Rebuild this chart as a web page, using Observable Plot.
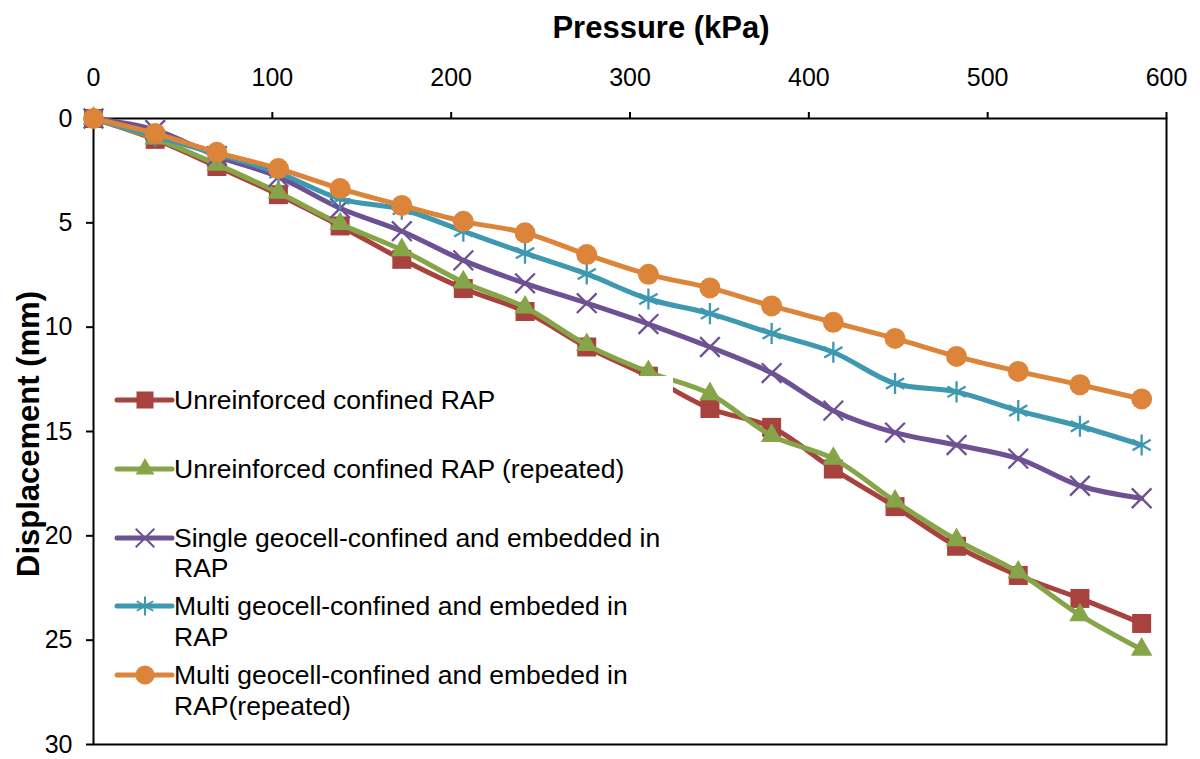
<!DOCTYPE html>
<html>
<head>
<meta charset="utf-8">
<script src="https://cdn.jsdelivr.net/npm/d3@7"></script>
<script src="https://cdn.jsdelivr.net/npm/@observablehq/plot@0.6"></script>
<style>
  body { margin: 0; background: #fff; font-family: "Liberation Sans", Arial, sans-serif; }
  #wrap { position: relative; width: 1200px; height: 759px; overflow: hidden; }
  #legend { position: absolute; left: 108px; top: 376px; width: 565px; height: 346px; background: #fff; }
  .entry { position: absolute; left: 0; display: flex; align-items: flex-start; }
  .entry svg { flex: none; }
  .entry .lbl { font-size: 26.5px; line-height: 30.5px; color: #000; white-space: nowrap; margin-left: -2px; }
</style>
</head>
<body>
<div id="wrap"></div>
<script>
// Applied pressure steps (kPa)
const pressure = [0, 34.5, 69, 103.4, 137.9, 172.4, 206.8, 241.3, 275.8, 310.3, 344.7, 379.2, 413.7, 448.2, 482.6, 517.1, 551.6, 586.1];

// Displacement (mm) for each test
const unreinforced       = [0, 1.0, 2.3, 3.65, 5.15, 6.75, 8.15, 9.25, 10.95, 12.35, 13.9, 14.8, 16.8, 18.6, 20.5, 21.9, 23.0, 24.2];
const unreinforcedRepeat = [0, 0.95, 2.2, 3.55, 5.05, 6.3, 7.85, 9.05, 10.85, 12.15, 13.2, 15.2, 16.3, 18.35, 20.2, 21.75, 23.8, 25.45];
const singleGeocell      = [0, 0.55, 1.8, 2.8, 4.3, 5.4, 6.8, 7.9, 8.85, 9.85, 10.95, 12.2, 14.0, 15.05, 15.65, 16.3, 17.6, 18.2];
const multiGeocell       = [0, 0.85, 1.7, 2.6, 3.85, 4.35, 5.4, 6.45, 7.45, 8.65, 9.35, 10.3, 11.2, 12.7, 13.1, 14.0, 14.75, 15.65];
const multiGeocellRepeat = [0, 0.72, 1.62, 2.4, 3.36, 4.17, 4.93, 5.48, 6.52, 7.47, 8.12, 8.98, 9.77, 10.54, 11.4, 12.12, 12.76, 13.44];

const seriesNames = [
  "Unreinforced confined RAP",
  "Unreinforced confined RAP (repeated)",
  "Single geocell-confined and embedded in RAP",
  "Multi geocell-confined and embeded in RAP",
  "Multi geocell-confined and embeded in RAP(repeated)"
];
const legendLines = [
  ["Unreinforced confined RAP"],
  ["Unreinforced confined RAP (repeated)"],
  ["Single geocell-confined and embedded in", "RAP"],
  ["Multi geocell-confined and embeded in", "RAP"],
  ["Multi geocell-confined and embeded in", "RAP(repeated)"]
];
const seriesValues = [unreinforced, unreinforcedRepeat, singleGeocell, multiGeocell, multiGeocellRepeat];
const seriesColors = ["#A7423F", "#86A548", "#6E5193", "#3D98B0", "#DD843B"];
const seriesSymbols = ["square", "triangle", "times", "asterisk", "circle"];
const seriesR = [10.7, 8.0, 9.0, 10.0, 10.5];

const xTicks = [0, 100, 200, 300, 400, 500, 600];
const yTicks = [0, 5, 10, 15, 20, 25, 30];

const xTitle = "Pressure (kPa)";
const yTitle = "Displacement (mm)";

// Long-format rows per series
const seriesRows = seriesNames.map((name, i) =>
  pressure.map((p, j) => ({series: name, pressure: p, displacement: seriesValues[i][j]}))
);

const strokeOnly = s => s === "times" || s === "asterisk";

const seriesMarks = seriesRows.flatMap((rows, i) => [
  Plot.line(rows, {
    x: "pressure", y: "displacement",
    stroke: seriesColors[i], strokeWidth: 5, curve: "catmull-rom",
    strokeLinejoin: "round", strokeLinecap: "round"
  }),
  Plot.dot(rows, {
    x: "pressure", y: "displacement",
    symbol: () => seriesSymbols[i], r: seriesR[i],
    fill: strokeOnly(seriesSymbols[i]) ? "none" : seriesColors[i],
    stroke: strokeOnly(seriesSymbols[i]) ? seriesColors[i] : "none",
    strokeWidth: strokeOnly(seriesSymbols[i]) ? 2.3 : 0
  })
]);

const chart = Plot.plot({
  width: 1200,
  height: 759,
  marginLeft: 93,
  marginRight: 34,
  marginTop: 118,
  marginBottom: 15,
  style: {fontFamily: "'Liberation Sans', Arial, sans-serif", fontSize: "25px", color: "#000", background: "#fff"},
  x: {domain: [0, 600]},
  y: {domain: [0, 30], reverse: true},
  marks: [
    Plot.axisX({anchor: "top", ticks: xTicks, tickSize: 7, tickPadding: 26, strokeWidth: 2, label: null, fontSize: 25}),
    Plot.axisY({anchor: "left", ticks: yTicks, tickSize: 7, tickPadding: 14, strokeWidth: 2, label: null, fontSize: 25}),
    Plot.frame({stroke: "#000", strokeWidth: 2}),
    ...seriesMarks
  ]
});

const svg = d3.select(chart);
svg.append("text")
  .attr("x", 661).attr("y", 27)
  .attr("text-anchor", "middle").attr("dominant-baseline", "central")
  .attr("font-weight", "bold").attr("font-size", 31)
  .attr("fill", "#000")
  .text(xTitle);
svg.append("text")
  .attr("transform", "translate(28,434) rotate(-90)")
  .attr("text-anchor", "middle").attr("dominant-baseline", "central")
  .attr("font-weight", "bold").attr("font-size", 31)
  .attr("fill", "#000")
  .text(yTitle);

const wrap = document.getElementById("wrap");
wrap.appendChild(chart);

// Legend box overlaid on the plot area
const legend = d3.select(wrap).append("div").attr("id", "legend");
const symbolTypes = {square: d3.symbolSquare, triangle: d3.symbolTriangle, times: d3.symbolTimes, asterisk: d3.symbolAsterisk, circle: d3.symbolCircle};
const legendR = [9.6, 7.0, 8.5, 9.0, 9.6];
legendLines.forEach((lines, i) => {
  const entry = legend.append("div").attr("class", "entry").style("top", (i * 68.8 + 9) + "px");
  const sw = entry.append("svg").attr("width", 68).attr("height", 30);
  sw.append("line")
    .attr("x1", 9).attr("x2", 64).attr("y1", 15).attr("y2", 15)
    .attr("stroke", seriesColors[i]).attr("stroke-width", 5).attr("stroke-linecap", "round");
  const st = seriesSymbols[i];
  sw.append("path")
    .attr("transform", "translate(37,15)")
    .attr("d", d3.symbol(symbolTypes[st], Math.PI * legendR[i] * legendR[i])())
    .attr("fill", strokeOnly(st) ? "none" : seriesColors[i])
    .attr("stroke", strokeOnly(st) ? seriesColors[i] : "none")
    .attr("stroke-width", 2);
  const lbl = entry.append("div").attr("class", "lbl");
  lines.forEach(t => lbl.append("div").text(t));
});
</script>
</body>
</html>
